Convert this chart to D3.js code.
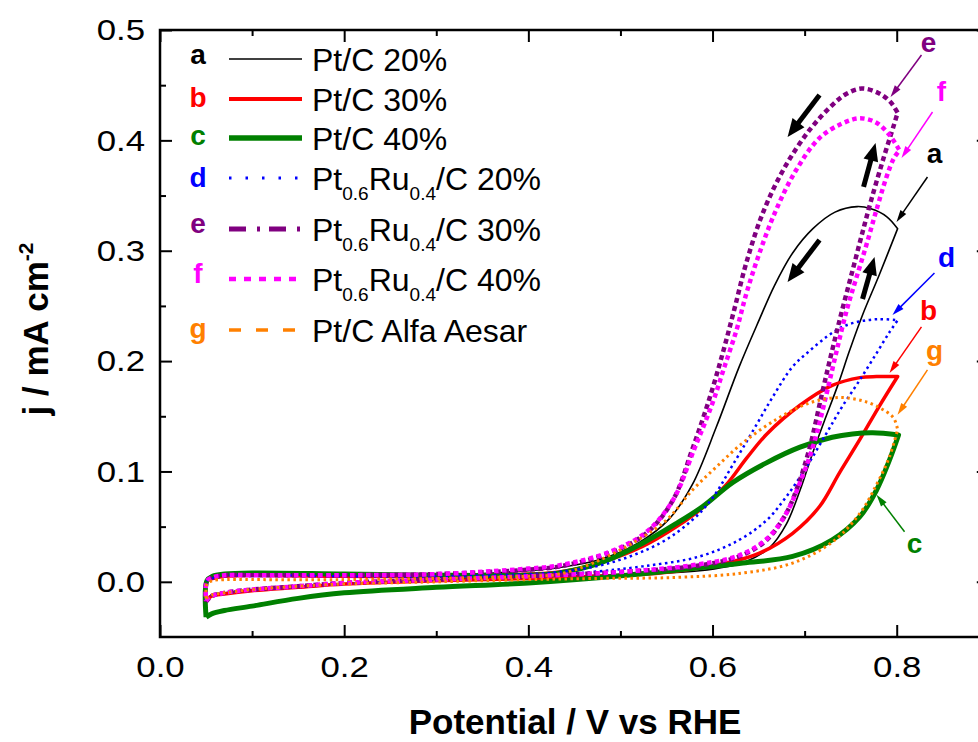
<!DOCTYPE html>
<html><head><meta charset="utf-8">
<script src="https://cdn.jsdelivr.net/npm/d3@7"></script>
<style>
html,body{margin:0;padding:0;background:#fff;overflow:hidden}
svg{display:block;font-family:"Liberation Sans",Arial,Helvetica,sans-serif}
</style></head><body>
<svg id="chart" width="978" height="742"></svg>
<script>
// ---------------- data ----------------
const xDomain = [0, 0.9];
const yDomain = [-0.05, 0.5];
const xMajorTicks = [0.0, 0.2, 0.4, 0.6, 0.8];
const xMinorTicks = [0.1, 0.3, 0.5, 0.7];
const yMajorTicks = [0.0, 0.1, 0.2, 0.3, 0.4, 0.5];
const yMinorTicks = [0.05, 0.15, 0.25, 0.35, 0.45];
const xTitle = "Potential / V vs RHE";
const yTitle = "j / mA cm";
const yTitleSup = "-2";

const seriesKeys = ["a", "b", "c", "d", "e", "f", "g"];
const seriesNames = ["Pt/C 20%", "Pt/C 30%", "Pt/C 40%",
  "Pt_{0.6}Ru_{0.4}/C 20%", "Pt_{0.6}Ru_{0.4}/C 30%", "Pt_{0.6}Ru_{0.4}/C 40%",
  "Pt/C Alfa Aesar"];

// forward scan (0.05 -> 0.8 V) and reverse scan (0.8 -> 0.05 V), [E, j]
const aFwd = [[0.05,-0.016],[0.056,-0.012],[0.07,-0.010],[0.1,-0.007],[0.15,-0.004],[0.2,-0.002],[0.3,0.002],[0.4,0.004],[0.477,0.006],[0.586,0.010],[0.635,0.018],[0.662,0.031],[0.680,0.052],[0.695,0.083],[0.708,0.115],[0.722,0.147],[0.736,0.178],[0.749,0.210],[0.763,0.242],[0.781,0.278],[0.801,0.320]];
const aRev = [[0.801,0.320],[0.789,0.331],[0.772,0.338],[0.757,0.340],[0.733,0.335],[0.709,0.320],[0.687,0.298],[0.667,0.268],[0.651,0.238],[0.629,0.195],[0.604,0.140],[0.578,0.088],[0.553,0.057],[0.521,0.036],[0.477,0.020],[0.434,0.013],[0.4,0.010],[0.3,0.006],[0.2,0.005],[0.1,0.005],[0.07,0.005],[0.057,0.003],[0.051,0.001],[0.05,-0.016]];

const bFwd = [[0.05,-0.017],[0.056,-0.013],[0.07,-0.011],[0.1,-0.008],[0.15,-0.005],[0.2,-0.002],[0.3,0.001],[0.4,0.003],[0.470,0.005],[0.543,0.008],[0.615,0.017],[0.651,0.026],[0.687,0.044],[0.716,0.068],[0.738,0.099],[0.760,0.129],[0.781,0.159],[0.801,0.186]];
const bRev = [[0.801,0.186],[0.778,0.186],[0.760,0.185],[0.730,0.178],[0.695,0.160],[0.659,0.134],[0.637,0.112],[0.615,0.088],[0.589,0.067],[0.561,0.050],[0.524,0.032],[0.477,0.017],[0.434,0.009],[0.4,0.007],[0.3,0.005],[0.2,0.005],[0.1,0.006],[0.07,0.005],[0.057,0.003],[0.051,0.001],[0.05,-0.017]];

const cFwd = [[0.05,-0.032],[0.056,-0.029],[0.07,-0.026],[0.1,-0.022],[0.15,-0.015],[0.2,-0.010],[0.3,-0.005],[0.4,-0.001],[0.507,0.006],[0.578,0.012],[0.633,0.017],[0.687,0.023],[0.730,0.038],[0.760,0.059],[0.778,0.083],[0.792,0.110],[0.802,0.133]];
const cRev = [[0.802,0.133],[0.774,0.135],[0.752,0.134],[0.730,0.131],[0.695,0.122],[0.659,0.108],[0.622,0.090],[0.589,0.068],[0.561,0.053],[0.524,0.035],[0.481,0.018],[0.434,0.008],[0.4,0.006],[0.3,0.006],[0.2,0.007],[0.1,0.008],[0.07,0.007],[0.057,0.005],[0.051,0.001],[0.05,-0.032]];

const dFwd = [[0.05,-0.016],[0.056,-0.012],[0.07,-0.010],[0.1,-0.007],[0.15,-0.004],[0.2,-0.002],[0.3,0.002],[0.4,0.005],[0.470,0.009],[0.524,0.014],[0.586,0.023],[0.629,0.038],[0.659,0.056],[0.680,0.077],[0.702,0.104],[0.724,0.135],[0.741,0.159],[0.760,0.183],[0.778,0.207],[0.792,0.226],[0.801,0.237]];
const dRev = [[0.801,0.237],[0.781,0.238],[0.760,0.236],[0.741,0.231],[0.724,0.222],[0.705,0.209],[0.687,0.195],[0.665,0.167],[0.644,0.137],[0.622,0.106],[0.600,0.076],[0.578,0.056],[0.543,0.035],[0.488,0.017],[0.434,0.009],[0.4,0.007],[0.3,0.005],[0.2,0.005],[0.1,0.006],[0.07,0.005],[0.057,0.003],[0.051,0.001],[0.05,-0.016]];

const eFwd = [[0.05,-0.018],[0.056,-0.013],[0.07,-0.010],[0.1,-0.007],[0.15,-0.004],[0.2,-0.001],[0.3,0.002],[0.4,0.005],[0.5,0.009],[0.578,0.014],[0.629,0.023],[0.659,0.038],[0.680,0.062],[0.691,0.083],[0.705,0.120],[0.719,0.171],[0.730,0.210],[0.741,0.247],[0.752,0.282],[0.762,0.314],[0.772,0.345],[0.785,0.382],[0.797,0.414],[0.801,0.425]];
const eRev = [[0.801,0.425],[0.793,0.435],[0.780,0.443],[0.762,0.447],[0.745,0.442],[0.730,0.432],[0.705,0.409],[0.678,0.375],[0.655,0.335],[0.637,0.290],[0.624,0.248],[0.612,0.210],[0.597,0.167],[0.578,0.120],[0.557,0.074],[0.528,0.044],[0.488,0.026],[0.434,0.014],[0.4,0.011],[0.3,0.007],[0.2,0.006],[0.1,0.006],[0.07,0.006],[0.057,0.004],[0.051,0.001],[0.05,-0.018]];

const fFwd = [[0.05,-0.017],[0.056,-0.013],[0.07,-0.010],[0.1,-0.007],[0.15,-0.004],[0.2,-0.001],[0.3,0.002],[0.4,0.005],[0.5,0.009],[0.578,0.015],[0.629,0.024],[0.659,0.039],[0.680,0.062],[0.695,0.090],[0.710,0.125],[0.724,0.171],[0.735,0.210],[0.746,0.247],[0.756,0.275],[0.767,0.305],[0.778,0.337],[0.789,0.367],[0.797,0.384],[0.803,0.391]];
const fRev = [[0.803,0.391],[0.792,0.405],[0.778,0.416],[0.760,0.420],[0.740,0.415],[0.716,0.402],[0.690,0.372],[0.668,0.335],[0.651,0.298],[0.637,0.262],[0.626,0.228],[0.613,0.195],[0.600,0.162],[0.580,0.120],[0.557,0.074],[0.528,0.045],[0.488,0.027],[0.434,0.015],[0.4,0.012],[0.3,0.007],[0.2,0.006],[0.1,0.006],[0.07,0.006],[0.057,0.004],[0.051,0.001],[0.05,-0.017]];

const gFwd = [[0.05,-0.015],[0.056,-0.012],[0.07,-0.010],[0.1,-0.007],[0.15,-0.004],[0.2,-0.002],[0.3,0.000],[0.4,0.002],[0.470,0.003],[0.561,0.004],[0.633,0.008],[0.687,0.017],[0.730,0.036],[0.760,0.062],[0.778,0.088],[0.792,0.113],[0.801,0.138]];
const gRev = [[0.801,0.138],[0.797,0.148],[0.789,0.154],[0.767,0.163],[0.738,0.167],[0.705,0.162],[0.669,0.147],[0.633,0.126],[0.604,0.104],[0.578,0.083],[0.550,0.056],[0.513,0.035],[0.470,0.017],[0.434,0.007],[0.4,0.005],[0.3,0.003],[0.2,0.002],[0.1,0.002],[0.07,0.002],[0.057,0.001],[0.051,-0.002],[0.05,-0.015]];

const forwardScans = [aFwd, bFwd, cFwd, dFwd, eFwd, fFwd, gFwd];
const reverseScans = [aRev, bRev, cRev, dRev, eRev, fRev, gRev];

// annotations (data coordinates)
const calloutKeys = ["e", "f", "a", "d", "b", "g", "c"];
const calloutTextAt = [[0.8345,0.4801],[0.8486,0.4357],[0.8410,0.3795],[0.8541,0.2853],[0.8345,0.2373],[0.8410,0.2011],[0.8193,0.0263]];
const calloutFrom = [[0.8269,0.4774],[0.8389,0.4257],[0.8334,0.3668],[0.8410,0.2799],[0.8269,0.2310],[0.8334,0.1920],[0.8085,0.0453]];
const calloutTo = [[0.7933,0.4393],[0.8052,0.3841],[0.7998,0.3261],[0.7954,0.2418],[0.7922,0.1893],[0.8009,0.1513],[0.7781,0.0788]];
const scanArrowFrom = [[0.7162,0.4411],[0.7640,0.3578],[0.7162,0.3098],[0.7629,0.2563]];
const scanArrowTo = [[0.6815,0.4031],[0.7770,0.3976],[0.6815,0.2717],[0.7759,0.2944]];

// ---------------- styles ----------------
const styleOf = {
  a:{color:"#000000", w:1.6, dash:null,       legW:1.6, legDash:null},
  b:{color:"#ff0000", w:3.5, dash:null,       legW:4,   legDash:null},
  c:{color:"#008000", w:5,   dash:null,       legW:5.5, legDash:null},
  d:{color:"#0000ff", w:2.5, dash:"2.5,3.5",  legW:3,   legDash:"2.5,14"},
  e:{color:"#800080", w:4.5, dash:"5,3.5",    legW:5,   legDash:"17,11,3,9"},
  f:{color:"#ff00ff", w:4.5, dash:"4.5,3.5",  legW:4.5, legDash:"7,8"},
  g:{color:"#ff8000", w:3,   dash:"2.5,3.5",  legW:3.5, legDash:"12,15"}
};
const legendLineY = [59, 99, 138, 178, 229, 279, 330];
const legendLetterY = [64, 107, 145, 187, 233, 283, 338];

// ---------------- drawing ----------------
const svg = d3.select("#chart");
const FONT = '"Liberation Sans", Arial, Helvetica, sans-serif';
const x = d3.scaleLinear().domain(xDomain).range([160, 988.8]);
const y = d3.scaleLinear().domain(yDomain).range([637, 30]);

// curves
const line = d3.line().x(d => x(d[0])).y(d => y(d[1])).curve(d3.curveCatmullRom.alpha(0.5));
const gCurves = svg.append("g");
seriesKeys.forEach((k, i) => {
  const s = styleOf[k];
  const dstr = line(forwardScans[i]) + line(reverseScans[i]).replace(/^M/, "L");
  gCurves.append("path").attr("d", dstr)
    .attr("fill", "none").attr("stroke", s.color).attr("stroke-width", s.w)
    .attr("stroke-dasharray", s.dash).attr("stroke-linejoin", "round");
});

// axes
function styleAxis(g) {
  g.select(".domain").remove();
  g.selectAll(".tick line").attr("stroke", "#000").attr("stroke-width", 2);
}
const fmt = d3.format(".1f");
const gx = svg.append("g").attr("transform", `translate(0,${y(yDomain[0])})`)
  .call(d3.axisBottom(x).tickValues(xMajorTicks).tickSize(-12).tickFormat(fmt));
styleAxis(gx);
gx.selectAll(".tick text").attr("y", 40).attr("dy", 0).attr("font-size", 29)
  .attr("font-family", FONT).attr("fill", "#000").attr("transform", "scale(1.2,1)");
svg.append("g").attr("transform", `translate(0,${y(yDomain[0])})`)
  .call(d3.axisBottom(x).tickValues(xMinorTicks).tickSize(-6).tickFormat("")).call(styleAxis);
svg.append("g").attr("transform", `translate(0,${y(yDomain[1])})`)
  .call(d3.axisTop(x).tickValues(xMajorTicks).tickSize(-12).tickFormat("")).call(styleAxis);
svg.append("g").attr("transform", `translate(0,${y(yDomain[1])})`)
  .call(d3.axisTop(x).tickValues(xMinorTicks).tickSize(-6).tickFormat("")).call(styleAxis);

const gy = svg.append("g").attr("transform", `translate(${x(xDomain[0])},0)`)
  .call(d3.axisLeft(y).tickValues(yMajorTicks).tickSize(-12).tickFormat(fmt));
styleAxis(gy);
gy.selectAll(".tick text").attr("x", -12.5).attr("dy", "0.34em").attr("font-size", 29)
  .attr("font-family", FONT).attr("fill", "#000").attr("transform", "scale(1.2,1)");
svg.append("g").attr("transform", `translate(${x(xDomain[0])},0)`)
  .call(d3.axisLeft(y).tickValues(yMinorTicks).tickSize(-6).tickFormat("")).call(styleAxis);
svg.append("g").attr("transform", `translate(${x(xDomain[1])},0)`)
  .call(d3.axisRight(y).tickValues(yMajorTicks).tickSize(-12).tickFormat("")).call(styleAxis);
svg.append("g").attr("transform", `translate(${x(xDomain[1])},0)`)
  .call(d3.axisRight(y).tickValues(yMinorTicks).tickSize(-6).tickFormat("")).call(styleAxis);

// frame
svg.append("rect").attr("x", x(xDomain[0])).attr("y", y(yDomain[1]))
  .attr("width", x(xDomain[1]) - x(xDomain[0])).attr("height", y(yDomain[0]) - y(yDomain[1]))
  .attr("fill", "none").attr("stroke", "#000").attr("stroke-width", 2.5);

// axis titles
svg.append("text").attr("x", 575).attr("y", 734).attr("text-anchor", "middle")
  .attr("font-family", FONT).attr("font-weight", "bold").attr("font-size", 35).text(xTitle);
const yt = svg.append("text").attr("transform", "translate(48,329) rotate(-90)")
  .attr("text-anchor", "middle").attr("font-family", FONT).attr("font-weight", "bold").attr("font-size", 35);
yt.append("tspan").text(yTitle);
yt.append("tspan").attr("font-size", 21).attr("dy", -15).text(yTitleSup);

// legend
const gLeg = svg.append("g");
seriesKeys.forEach((k, i) => {
  const s = styleOf[k];
  const ly = legendLineY[i];
  gLeg.append("text").attr("x", 198).attr("y", legendLetterY[i]).attr("text-anchor", "middle")
    .attr("font-family", FONT).attr("font-weight", "bold").attr("font-size", 28)
    .attr("fill", s.color).text(k);
  gLeg.append("line").attr("x1", 229).attr("x2", 302).attr("y1", ly).attr("y2", ly)
    .attr("stroke", s.color).attr("stroke-width", s.legW).attr("stroke-dasharray", s.legDash);
  const t = gLeg.append("text").attr("x", 312).attr("y", ly + 12)
    .attr("font-family", FONT).attr("font-size", 32).attr("fill", "#000");
  const parts = seriesNames[i].split(/(_\{[^}]*\})/).filter(p => p.length);
  let shifted = false;
  parts.forEach(p => {
    if (p.startsWith("_{")) {
      t.append("tspan").attr("font-size", 19).attr("dy", shifted ? 0 : 10).text(p.slice(2, -1));
      shifted = true;
    } else {
      t.append("tspan").attr("font-size", 32).attr("dy", shifted ? -10 : 0).text(p);
      shifted = false;
    }
  });
});

// arrow helper
function arrow(g, p1, p2, color, shaftW, headLen, headW) {
  const dx = p2[0] - p1[0], dy = p2[1] - p1[1];
  const L = Math.hypot(dx, dy), ux = dx / L, uy = dy / L, px = -uy, py = ux;
  const bx = p2[0] - ux * headLen, by = p2[1] - uy * headLen;
  g.append("line").attr("x1", p1[0]).attr("y1", p1[1])
    .attr("x2", bx + ux * 2).attr("y2", by + uy * 2)
    .attr("stroke", color).attr("stroke-width", shaftW);
  g.append("path").attr("d",
    `M${p2[0]},${p2[1]}L${bx + px * headW / 2},${by + py * headW / 2}L${bx - px * headW / 2},${by - py * headW / 2}Z`)
    .attr("fill", color);
}
const gAnn = svg.append("g");
scanArrowFrom.forEach((f, i) => {
  arrow(gAnn, [x(f[0]), y(f[1])], [x(scanArrowTo[i][0]), y(scanArrowTo[i][1])], "#000", 5, 18, 15);
});
calloutKeys.forEach((k, i) => {
  const s = styleOf[k];
  arrow(gAnn, [x(calloutFrom[i][0]), y(calloutFrom[i][1])], [x(calloutTo[i][0]), y(calloutTo[i][1])], s.color, 1.5, 12, 7);
  gAnn.append("text").attr("x", x(calloutTextAt[i][0])).attr("y", y(calloutTextAt[i][1]))
    .attr("text-anchor", "middle").attr("font-family", FONT).attr("font-weight", "bold")
    .attr("font-size", 28).attr("fill", s.color).text(k);
});
</script>
</body></html>
